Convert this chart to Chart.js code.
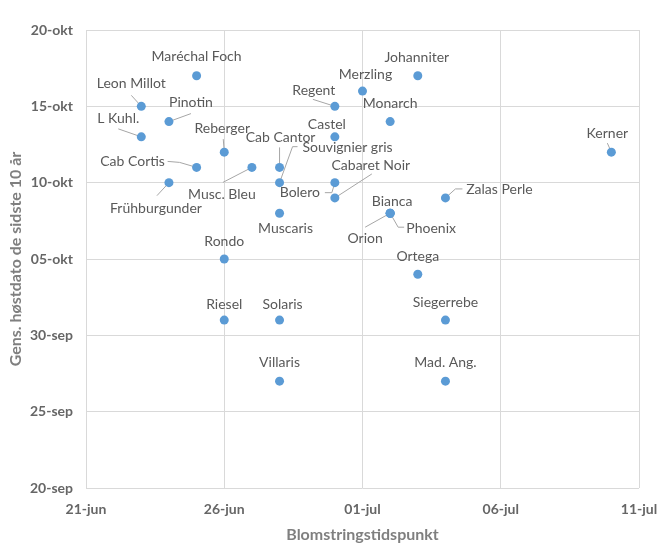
<!DOCTYPE html>
<html>
<head>
<meta charset="utf-8">
<script src="https://cdn.jsdelivr.net/npm/chart.js@4/dist/chart.umd.min.js"></script>
<style>
  html, body { margin: 0; padding: 0; background: #fff; }
  #chart { display: block; }
</style>
</head>
<body>
<canvas id="chart" width="660" height="544"></canvas>
<script>
"use strict";

// Sorter, blomstring og gennemsnitlig høstdato
const VARIETIES = [
  "Maréchal Foch", "Leon Millot", "Pinotin", "L Kuhl.", "Reberger", "Cab Cortis",
  "Musc. Bleu", "Frühburgunder", "Cab Cantor", "Souvignier gris", "Muscaris", "Regent",
  "Castel", "Bolero", "Cabaret Noir", "Merzling", "Johanniter", "Monarch",
  "Bianca", "Phoenix", "Orion", "Zalas Perle", "Kerner", "Rondo",
  "Ortega", "Riesel", "Solaris", "Siegerrebe", "Villaris", "Mad. Ang.",
];
const BLOOM = [
  "25-jun", "23-jun", "24-jun", "23-jun", "26-jun", "25-jun",
  "27-jun", "24-jun", "28-jun", "28-jun", "28-jun", "30-jun",
  "30-jun", "30-jun", "30-jun", "01-jul", "03-jul", "02-jul",
  "02-jul", "02-jul", "02-jul", "04-jul", "10-jul", "26-jun",
  "03-jul", "26-jun", "28-jun", "04-jul", "28-jun", "04-jul",
];
const HARVEST = [
  "17-okt", "15-okt", "14-okt", "13-okt", "12-okt", "11-okt",
  "11-okt", "10-okt", "11-okt", "10-okt", "08-okt", "15-okt",
  "13-okt", "10-okt", "09-okt", "16-okt", "17-okt", "14-okt",
  "08-okt", "08-okt", "08-okt", "09-okt", "12-okt", "05-okt",
  "04-okt", "01-okt", "01-okt", "01-okt", "27-sep", "27-sep",
];
const X_TICKS = ["21-jun", "26-jun", "01-jul", "06-jul", "11-jul"];
const Y_TICKS = ["20-sep", "25-sep", "30-sep", "05-okt", "10-okt", "15-okt", "20-okt"];

// label placement: [dx, dy] from the marker, optional leader path (ends at the marker)
const LABEL_POS = {
  "Maréchal Foch": [0, -19], "Leon Millot": [-10, -23, [[-10, -11]]],
  "Pinotin": [22, -19, [[22, -8]]], "L Kuhl.": [-23, -18, [[-23, -8]]],
  "Reberger": [-2, -24, [[-1, -13]]], "Cab Cortis": [-64, -6, [[-29, -6], [-17, -5]]],
  "Musc. Bleu": [-30, 27, [[-29, 15]]], "Frühburgunder": [-13, 26, [[-12, 13]]],
  "Cab Cantor": [1, -30, [[0, -20]]], "Souvignier gris": [68, -35, [[18, -36], [13, -36]]],
  "Muscaris": [6, 15], "Regent": [-21, -16, [[-22, -7]]], "Castel": [-8, -12],
  "Bolero": [-35, 10, [[-10, 10], [-3, 10]]], "Cabaret Noir": [36, -32, [[37, -24]]],
  "Merzling": [3, -17], "Johanniter": [-1, -18], "Monarch": [0, -18],
  "Bianca": [2, -12], "Phoenix": [41, 15, [[14, 14], [8, 14]]],
  "Orion": [-25, 25, [[-25, 14]]], "Zalas Perle": [54, -8, [[17, -9], [10, -9]]],
  "Kerner": [-4, -19, [[-4, -9]]], "Rondo": [0, -18], "Ortega": [0, -18],
  "Riesel": [0, -16], "Solaris": [3, -16], "Siegerrebe": [0, -18],
  "Villaris": [0, -19], "Mad. Ang.": [0, -19],
};

const MONTHS = ["jan", "feb", "mar", "apr", "maj", "jun", "jul", "aug", "sep", "okt", "nov", "dec"];
const DAY = 86400000;
const dayNum = (s) => { const [d, m] = s.split("-"); return Date.UTC(2021, MONTHS.indexOf(m), +d) / DAY; };
const tickLabel = (list) => (v) => list.find((s) => dayNum(s) === v) || "";
const setTicks = (list) => (axis) => { axis.ticks = list.map((s) => ({ value: dayNum(s) })); };

const FONT = "Lato, 'Open Sans', sans-serif";
const TEXT = "#595959";

const labelPlugin = {
  id: "varietyLabels",
  beforeDatasetsDraw(chart) {
    const ctx = chart.ctx;
    const pts = chart.getDatasetMeta(0).data;
    ctx.save();
    ctx.strokeStyle = "#a6a6a6";
    ctx.lineWidth = 1;
    VARIETIES.forEach((name, i) => {
      const path = (LABEL_POS[name] || [])[2];
      if (!path) return;
      const p = pts[i];
      ctx.beginPath();
      path.forEach(([dx, dy], k) => (k ? ctx.lineTo(p.x + dx, p.y + dy) : ctx.moveTo(p.x + dx, p.y + dy)));
      ctx.lineTo(p.x, p.y);
      ctx.stroke();
    });
    ctx.restore();
  },
  afterDatasetsDraw(chart) {
    const ctx = chart.ctx;
    const pts = chart.getDatasetMeta(0).data;
    ctx.save();
    ctx.font = "14px " + FONT;
    ctx.fillStyle = TEXT;
    ctx.textAlign = "center";
    ctx.textBaseline = "middle";
    VARIETIES.forEach((name, i) => {
      const [dx, dy] = LABEL_POS[name] || [0, -18];
      ctx.fillText(name, pts[i].x + dx, pts[i].y + dy);
    });
    ctx.restore();
  },
};

new Chart(document.getElementById("chart"), {
  type: "scatter",
  data: {
    datasets: [{
      label: "Sorter",
      data: VARIETIES.map((n, i) => ({ x: dayNum(BLOOM[i]), y: dayNum(HARVEST[i]) })),
      backgroundColor: "#5b9bd5",
      borderWidth: 0,
      pointRadius: 4.5,
    }],
  },
  options: {
    responsive: false,
    animation: false,
    layout: { padding: { top: 30, right: 21, bottom: 0, left: 0 } },
    plugins: { legend: { display: false }, tooltip: { enabled: false } },
    scales: {
      x: {
        type: "linear",
        min: dayNum(X_TICKS[0]), max: dayNum(X_TICKS[X_TICKS.length - 1]),
        afterBuildTicks: setTicks(X_TICKS),
        afterFit: (s) => { s.height = 56; s.paddingLeft = 0; s.paddingRight = 0; },
        grid: { color: "#d9d9d9", drawTicks: false },
        border: { display: false },
        ticks: { callback: tickLabel(X_TICKS), color: "#666", padding: 13, maxRotation: 0,
          font: { family: FONT, size: 14, weight: "bold" } },
        title: { display: true, text: "Blomstringstidspunkt", color: "#7f7f7f",
          padding: { top: 0, bottom: 0 }, font: { family: FONT, size: 16, weight: "bold" } },
      },
      y: {
        type: "linear",
        min: dayNum(Y_TICKS[0]), max: dayNum(Y_TICKS[Y_TICKS.length - 1]),
        afterBuildTicks: setTicks(Y_TICKS),
        afterFit: (s) => { s.width = 86; s.paddingTop = 0; s.paddingBottom = 0; },
        grid: { color: "#d9d9d9", drawTicks: false },
        border: { display: false },
        ticks: { callback: tickLabel(Y_TICKS), color: "#666", padding: 13,
          font: { family: FONT, size: 14, weight: "bold" } },
        title: { display: true, text: "Gens. høstdato de sidste 10 år", color: "#7f7f7f",
          padding: { top: 6, bottom: 0 }, font: { family: FONT, size: 16, weight: "bold" } },
      },
    },
  },
  plugins: [labelPlugin],
});
</script>
</body>
</html>
